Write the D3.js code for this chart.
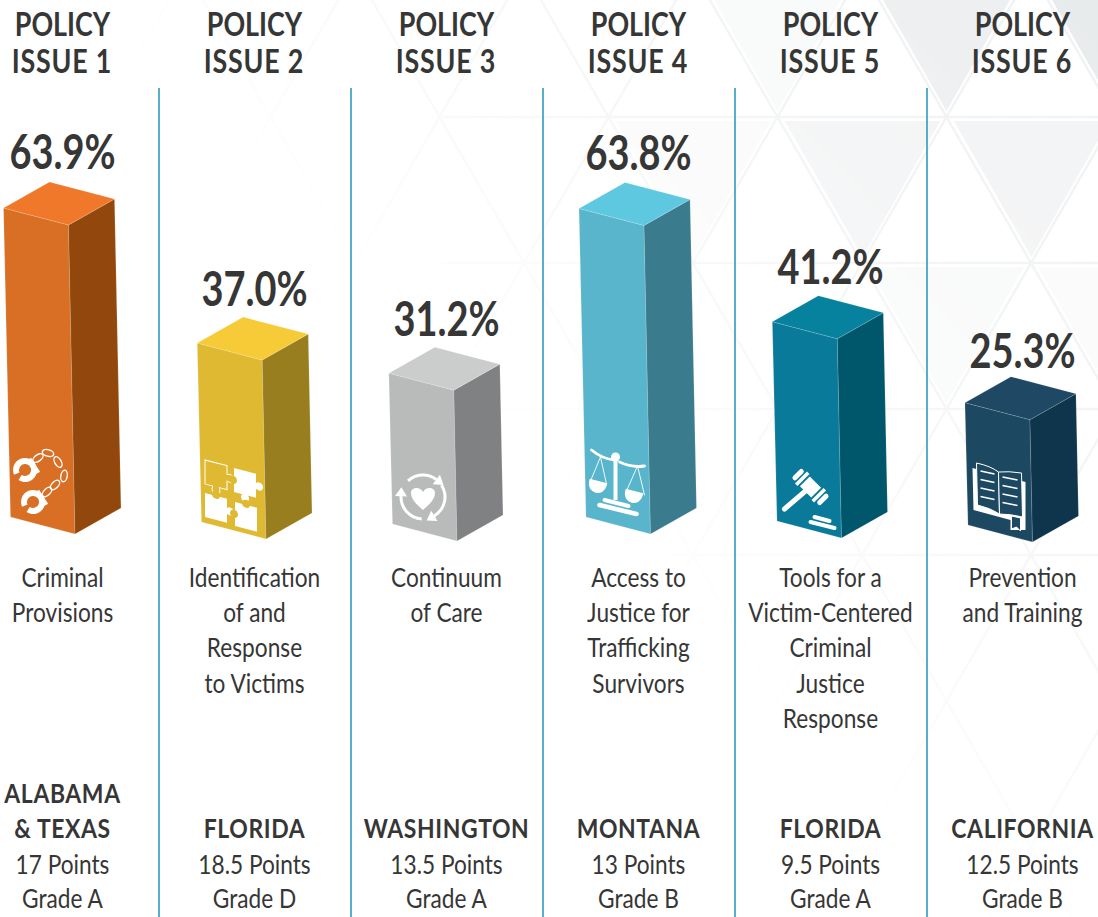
<!DOCTYPE html>
<html>
<head>
<meta charset="utf-8">
<style>
  html, body { margin: 0; padding: 0; background: #fff; overflow: hidden; }
  svg { display: block; font-family: Lato, sans-serif; }
</style>
<script src="https://cdn.jsdelivr.net/npm/d3@7"></script>
</head>
<body>
<div id="chart"></div>
<script>
'use strict';

// chart data
const issues = ["ISSUE 1", "ISSUE 2", "ISSUE 3", "ISSUE 4", "ISSUE 5", "ISSUE 6"];
const percents = [63.9, 37.0, 31.2, 63.8, 41.2, 25.3];
const descriptions = [
    ["Criminal", "Provisions"],
    ["Identification", "of and", "Response", "to Victims"],
    ["Continuum", "of Care"],
    ["Access to", "Justice for", "Trafficking", "Survivors"],
    ["Tools for a", "Victim-Centered", "Criminal", "Justice", "Response"],
    ["Prevention", "and Training"]
];
const states = [["ALABAMA", "& TEXAS"], ["FLORIDA"], ["WASHINGTON"], ["MONTANA"], ["FLORIDA"], ["CALIFORNIA"]];
const points = ["17 Points", "18.5 Points", "13.5 Points", "13 Points", "9.5 Points", "12.5 Points"];
const grades = ["Grade A", "Grade D", "Grade A", "Grade B", "Grade A", "Grade B"];

// bar styling, one per column
const topColors = ["#f0782a", "#f6cb37", "#cbcccc", "#5ec8e0", "#06829f", "#1e4864"];
const frontColors = ["#d96f25", "#dfb931", "#b9baba", "#58b5cb", "#0a7a9a", "#1c4861"];
const sideColors = ["#92480c", "#987e1f", "#808183", "#3a7b8d", "#00566b", "#0f354d"];
const baseY = [534, 539, 541, 534, 538, 542];
const baseDx = [12.5, 11.5, 10.5, 12, 11, 10];
const labelGap = [13, 11, 11, 12, 12, 9];

const width = 1098, height = 917;
const textColor = "#363636";

// icons, drawn relative to the bottom front corner of each bar
function handcuffs(g) {
    const arc = d3.arc().innerRadius(6).outerRadius(12);
    [[-50, -64], [-42, -32]].forEach(c => {
        g.append("path")
            .attr("transform", `translate(${c[0]},${c[1]})`)
            .attr("d", arc({ startAngle: 4.3, endAngle: 10.0 }))
            .attr("fill", "#fff");
        g.append("line")
            .attr("x1", c[0] + 4).attr("y1", c[1] - 11)
            .attr("x2", c[0] + 13).attr("y2", c[1] + 3)
            .attr("stroke", "#fff").attr("stroke-width", 5);
    });
    [[-37, -76, -35], [-27, -81, 15], [-17, -72, 60], [-11, -58, 100],
     [-20, -49, -45], [-28, -42, -45]].forEach(l => {
        g.append("ellipse")
            .attr("transform", `translate(${l[0]},${l[1]}) rotate(${l[2]})`)
            .attr("rx", 5.8).attr("ry", 3.2)
            .attr("fill", "none").attr("stroke", "#fff").attr("stroke-width", 1.4);
    });
}

function puzzlePiece(g, px, py, bg, opts) {
    const w = 22, ht = 24, r = 4;
    const p = g.append("g").attr("transform", `matrix(1,0.26,0,1,${px},${py})`);
    const fill = opts.outline ? bg : "#fff";
    const edge = opts.outline ? 1 : 0;
    const knob = (cx, cy) => p.append("circle")
        .attr("cx", cx).attr("cy", cy).attr("r", r)
        .attr("fill", fill).attr("stroke", "#fff").attr("stroke-width", edge);
    if (opts.right) knob(w + 3, ht / 2);
    if (opts.bottom) knob(w / 2, ht + 3);
    p.append("rect").attr("width", w).attr("height", ht)
        .attr("fill", fill).attr("stroke", "#fff").attr("stroke-width", edge);
    if (opts.outline) {
        // open the outline where the knobs join the square
        p.append("rect").attr("x", w - 1).attr("y", ht / 2 - 3).attr("width", 3).attr("height", 6).attr("fill", bg);
        p.append("rect").attr("x", w / 2 - 3).attr("y", ht - 1).attr("width", 6).attr("height", 3).attr("fill", bg);
    }
    if (opts.notchLeft) p.append("circle").attr("cx", -1).attr("cy", ht / 2).attr("r", r).attr("fill", bg);
    if (opts.notchTop) p.append("circle").attr("cx", w / 2).attr("cy", -1).attr("r", r).attr("fill", bg);
}

function puzzle(g, bg) {
    puzzlePiece(g, -61, -79, bg, { outline: true, right: true, bottom: true });
    puzzlePiece(g, -32, -71, bg, { right: true, bottom: true, notchLeft: true });
    puzzlePiece(g, -61, -46, bg, { right: true, notchTop: true });
    puzzlePiece(g, -31, -37, bg, { notchLeft: true, notchTop: true });
}

function careCycle(g) {
    const c = g.append("g").attr("transform", "translate(-34,-44)");
    const arc = d3.arc().innerRadius(20.5).outerRadius(23.5);
    [[-0.75, 0.65], [1.0, 2.6], [3.2, 4.75]].forEach(a => {
        c.append("path").attr("d", arc({ startAngle: a[0], endAngle: a[1] })).attr("fill", "#fff");
        const ex = Math.sin(a[1]) * 22, ey = -Math.cos(a[1]) * 22;
        const deg = a[1] * 180 / Math.PI;
        c.append("path")
            .attr("transform", `translate(${ex},${ey}) rotate(${deg})`)
            .attr("d", "M0,-6 L9,0 L0,6 Z")
            .attr("fill", "#fff");
    });
    c.append("path")
        .attr("d", "M0,13 C-6,8 -12,2 -12,-4 C-12,-10 -3,-11 0,-5 C3,-11 12,-10 12,-4 C12,2 6,8 0,13 Z")
        .attr("fill", "#fff");
}

function scalesIcon(g) {
    const s = g.append("g").attr("stroke", "#fff").attr("fill", "none").attr("stroke-linecap", "round");
    s.append("path").attr("d", "M-59,-84 Q-48,-75 -36,-74").attr("stroke-width", 2.8);
    s.append("path").attr("d", "M-31,-72 Q-18,-66 -6,-68").attr("stroke-width", 2.8);
    s.append("path").attr("d", "M-50,-77 L-60,-53 M-50,-77 L-44,-50 M-13,-68 L-24,-43 M-13,-68 L-6,-39").attr("stroke-width", 0.9);
    g.append("circle").attr("cx", -35).attr("cy", -77).attr("r", 4.5).attr("fill", "#fff");
    g.append("rect").attr("x", -37).attr("y", -74).attr("width", 4).attr("height", 40).attr("fill", "#fff");
    s.append("path").attr("d", "M-46,-34 L-22,-28").attr("stroke-width", 4);
    s.append("path").attr("d", "M-51,-29 L-14,-20").attr("stroke-width", 4.6);
    [[-52, -53], [-16, -43]].forEach(c => {
        g.append("path")
            .attr("transform", `translate(${c[0]},${c[1]}) rotate(14)`)
            .attr("d", "M-9,0 L9,0 L9,3 A9,9 0 0 1 -9,3 Z")
            .attr("fill", "#fff");
    });
}

function gavel(g) {
    const s = g.append("g").attr("stroke", "#fff").attr("stroke-linecap", "round");
    s.append("line").attr("x1", -57).attr("y1", -29).attr("x2", -36).attr("y2", -47).attr("stroke-width", 5);
    const head = g.append("g").attr("transform", "translate(-31,-51) rotate(45)").attr("fill", "#fff");
    head.append("rect").attr("x", -8).attr("y", -7).attr("width", 16).attr("height", 14);
    head.append("rect").attr("x", -13.5).attr("y", -8.5).attr("width", 3.5).attr("height", 17);
    head.append("rect").attr("x", 10).attr("y", -8.5).attr("width", 3.5).attr("height", 17);
    head.append("rect").attr("x", -20).attr("y", -7).attr("width", 5).attr("height", 14).attr("rx", 2.5);
    head.append("rect").attr("x", 15).attr("y", -7).attr("width", 5).attr("height", 14).attr("rx", 2.5);
    s.append("line").attr("x1", -27).attr("y1", -21).attr("x2", -12).attr("y2", -17).attr("stroke-width", 4);
    s.append("line").attr("x1", -31).attr("y1", -16).attr("x2", -7).attr("y2", -10).attr("stroke-width", 4);
}

function book(g, bg) {
    g.append("path").attr("d", "M-60,-74 L-59,-32 L-22,-22 L-22,-12 L-7,-12 L-7,-60 L-60,-74 Z").attr("fill", "#fff");
    const page = "fill:" + bg + ";stroke:#fff;stroke-width:1";
    g.append("path").attr("d", "M-56,-79 Q-42,-76 -34,-70 L-33,-28 Q-42,-34 -55,-37 Z").attr("style", page);
    g.append("path").attr("d", "M-34,-70 Q-24,-71 -11,-69 L-10,-25 Q-22,-28 -33,-28 Z").attr("style", page);
    g.append("path").attr("d", "M-21,-26 L-12,-24 L-12,-11 L-16,-15 L-21,-13 Z").attr("style", page);
    const lines = g.append("g").attr("stroke", "#fff").attr("stroke-width", 1.5);
    d3.range(4).forEach(k => {
        lines.append("line").attr("x1", -52).attr("x2", -38)
            .attr("y1", -71 + k * 8.5).attr("y2", -68 + k * 8.5);
        lines.append("line").attr("x1", -30).attr("x2", -15)
            .attr("y1", -65 + k * 8.5).attr("y2", -62 + k * 8.5);
    });
}

const iconDrawers = [handcuffs, puzzle, careCycle, scalesIcon, gavel, book];

const svg = d3.select("#chart").append("svg")
    .attr("width", width)
    .attr("height", height);

const x = d3.scaleBand().domain(issues).range([-33.5, 1118.5]);
const h = d3.scaleLinear().domain([0, 63.9]).range([0, 309]);

// faint triangle background in the top right
const defs = svg.append("defs");
const fade = defs.append("linearGradient").attr("id", "bgFade")
    .attr("gradientUnits", "userSpaceOnUse")
    .attr("x1", 1098).attr("y1", 0).attr("x2", 560).attr("y2", 520);
fade.append("stop").attr("offset", 0).attr("stop-color", "#fff");
fade.append("stop").attr("offset", 0.35).attr("stop-color", "#fff").attr("stop-opacity", 0.85);
fade.append("stop").attr("offset", 1).attr("stop-color", "#000");
defs.append("mask").attr("id", "bgMask")
    .append("rect").attr("width", width).attr("height", height).attr("fill", "url(#bgFade)");

const side = 169, rowH = 146;
const bg = svg.append("g").attr("mask", "url(#bgMask)");
// pale grid first, the shaded triangles sit inside its cells
const seams = bg.append("g").attr("stroke", "#f1f2f3").attr("stroke-width", 2.5);
d3.range(0, 4).forEach(r => {
    const y0 = 117 + r * rowH;
    seams.append("line").attr("x1", 440).attr("x2", width).attr("y1", y0).attr("y2", y0);
});
d3.range(-6, 6).forEach(k => {
    const x0 = 862 + k * side;
    const run = 7 * side / 2;
    seams.append("line").attr("x1", x0).attr("y1", -29).attr("x2", x0 + run).attr("y2", -29 + 7 * rowH);
    seams.append("line").attr("x1", x0).attr("y1", -29).attr("x2", x0 - run).attr("y2", -29 + 7 * rowH);
});
[
    // [left vertex, row y, shade]
    [862, -29, "#eceeef"], [1031, -29, "#e8ebec"], [693, -29, "#f8f9f9"],
    [947, 117, "#f2f3f4"], [778, 117, "#f2f3f4"], [609, 117, "#f9f9fa"],
    [862, 263, "#f8f9f9"], [1031, 263, "#fafafa"]
].forEach(t => {
    const inset = 4;
    bg.append("polygon")
        .attr("points", [
            [t[0] + inset * 1.7, t[1] + inset],
            [t[0] + side - inset * 1.7, t[1] + inset],
            [t[0] + side / 2, t[1] + rowH - inset * 1.5]
        ].join(" "))
        .attr("fill", t[2]);
});

// column dividers
svg.append("g").selectAll("line")
    .data(issues.slice(1))
    .join("line")
    .attr("x1", d => x(d) + 0.5)
    .attr("x2", d => x(d) + 0.5)
    .attr("y1", 88)
    .attr("y2", height)
    .attr("stroke", "#2f9bbd")
    .attr("stroke-width", 1.6);

// narrowed text, horizontally squeezed since no condensed Avenir is installed
function label(g, str, cx, y, size, weight, sx) {
    return g.append("text")
        .attr("transform", `translate(${cx},${y}) scale(${sx},1)`)
        .attr("text-anchor", "middle")
        .attr("font-size", size)
        .attr("font-weight", weight)
        .attr("fill", textColor)
        .text(str);
}

issues.forEach((issue, i) => {
    const col = svg.append("g").attr("class", "col");
    const cx = x(issue) + x.bandwidth() / 2;

    label(col, "POLICY", cx, 36, 32, 700, 0.84);
    label(col, issue, cx - 0.5, 72.5, 32, 700, 0.84).attr("letter-spacing", 0.9);

    // the bar: front edge is the reference, the bar leans a little with height
    const barH = h(percents[i]);
    const fx = cx + baseDx[i], fy = baseY[i];
    const tx = fx - barH * 0.021, ty = fy - barH;
    const poly = (pts, fill) => col.append("polygon")
        .attr("points", pts.join(" "))
        .attr("fill", fill)
        .attr("stroke", "#fff")
        .attr("stroke-opacity", 0.25)
        .attr("stroke-width", 0.6);
    poly([[tx - 65, ty - 17], [tx, ty], [fx, fy], [fx - 64.5, fy - 17]], frontColors[i]);
    poly([[tx, ty], [tx + 46, ty - 26], [fx + 46, fy - 26], [fx, fy]], sideColors[i]);
    poly([[tx - 65, ty - 17], [tx - 19, ty - 43], [tx + 46, ty - 26], [tx, ty]], topColors[i]);

    label(col, percents[i].toFixed(1) + "%", cx, ty - 43 - labelGap[i], 48, 700, 0.79);

    const icon = col.append("g").attr("transform", `translate(${fx},${fy})`);
    iconDrawers[i](icon, frontColors[i]);

    descriptions[i].forEach((line, k) => {
        label(col, line, cx, 587 + k * 35.2, 27, 400, 0.84);
    });

    label(col, grades[i], cx, 908, 27, 400, 0.84);
    label(col, points[i], cx, 873.5, 27, 400, 0.84);
    states[i].slice().reverse().forEach((s, k) => {
        label(col, s, cx, 838 - k * 35.2, 27, 700, 0.85).attr("letter-spacing", 0.7);
    });
});
</script>
</body>
</html>
